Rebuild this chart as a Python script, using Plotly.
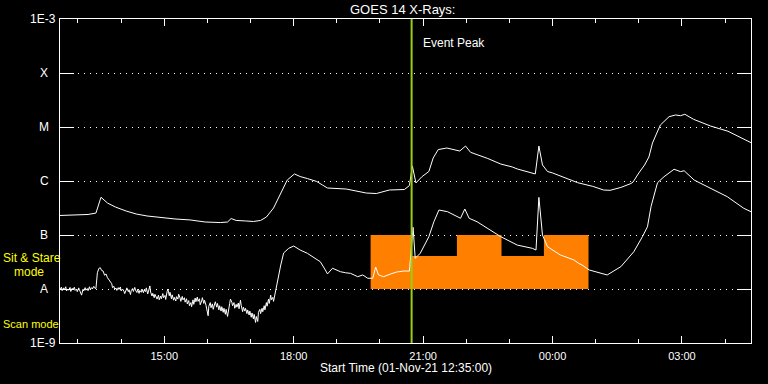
import math
from datetime import datetime, timedelta
import plotly.graph_objects as go

# ---------------- data ----------------
# upper channel (1-8 A) : times (HH:MM, 01-Nov-21 12:35 -> 02-Nov-21) and flux W/m^2
up_t = ["12:35","12:56","13:14","13:25","13:32","13:41","13:52","14:07","14:21","14:36",
        "14:54","15:15","15:36","15:57","16:18","16:28","16:33","16:40","16:53","17:04",
        "17:14","17:22","17:32","17:42","17:51","18:01","18:09","18:19","18:32","18:40",
        "18:47","19:13","19:41","19:55","20:13","20:34","20:41","20:45","20:50","20:58",
        "21:08","21:14","21:21","21:33","21:51","21:59","22:06","22:30","22:48","23:04",
        "23:11","23:36","23:39","23:41","23:46","23:53","00:00","00:11","00:28","00:35",
        "00:56","01:11","01:20","01:35","01:49","01:52","02:00","02:08","02:14","02:19",
        "02:25","02:30","02:42","02:51","02:58","03:04","03:16","03:40","04:04","04:36"]
up_f = [2.3e-7, 2.35e-7, 2.4e-7, 2.55e-7, 5.0e-7, 3.91e-7, 3.3e-7, 2.78e-7, 2.45e-7, 2.25e-7,
        2.11e-7, 1.98e-7, 1.9e-7, 1.74e-7, 1.7e-7, 1.74e-7, 2.02e-7, 1.86e-7, 1.82e-7, 1.78e-7,
        1.86e-7, 2.15e-7, 3.16e-7, 5.99e-7, 1.04e-6, 1.35e-6, 1.21e-6, 1.11e-6, 9.8e-7, 8.43e-7,
        7.41e-7, 7.1e-7, 5.99e-7, 5.86e-7, 6.81e-7, 6.96e-7, 8.25e-7, 1.9e-6, 9.18e-7, 1.19e-6,
        1.5e-6, 2.67e-6, 3.82e-6, 4.08e-6, 3.59e-6, 4.44e-6, 3.4e-6, 2.61e-6, 2.06e-6, 1.82e-6,
        1.67e-6, 1.35e-6, 3.3e-6, 4.44e-6, 1.98e-6, 1.5e-6, 1.41e-6, 1.24e-6, 1.02e-6, 9.3e-7,
        7.95e-7, 6.81e-7, 6.72e-7, 7.6e-7, 8.98e-7, 9.58e-7, 1.41e-6, 1.98e-6, 2.78e-6, 5.05e-6,
        7.74e-6, 1.09e-5, 1.55e-5, 1.67e-5, 1.62e-5, 1.72e-5, 1.39e-5, 1.04e-5, 8.34e-6, 5.12e-6]

# lower channel (0.5-4 A): noisy quiet part first, then the smooth part
lo_t = ["12:35","12:37","12:38","12:40","12:41","12:43","12:44","12:46","12:47","12:49",
        "12:50","12:52","12:53","12:55","12:56","12:58","12:59","13:01","13:02","13:04",
        "13:05","13:07","13:08","13:10","13:11","13:13","13:14","13:16","13:17","13:19",
        "13:20","13:22","13:23","13:25","13:27","13:29","13:31","13:33","13:35","13:37",
        "13:39","13:41","13:43","13:45","13:47","13:48","13:50","13:51","13:53","13:54",
        "13:56","13:57","13:59","14:00","14:02","14:04","14:05","14:07","14:08","14:10",
        "14:11","14:13","14:14","14:16","14:17","14:19","14:20","14:22","14:23","14:25",
        "14:26","14:28","14:29","14:31","14:32","14:34","14:35","14:37","14:38","14:40",
        "14:41","14:43","14:44","14:46","14:47","14:49","14:50","14:52","14:53","14:55",
        "14:56","14:58","14:59","15:01","15:02","15:04","15:05","15:07","15:08","15:10",
        "15:11","15:13","15:14","15:16","15:17","15:19","15:20","15:22","15:23","15:25",
        "15:26","15:28","15:29","15:31","15:32","15:34","15:35","15:37","15:38","15:40",
        "15:41","15:43","15:44","15:46","15:47","15:49","15:50","15:52","15:53","15:55",
        "15:56","15:58","15:59","16:01","16:02","16:04","16:05","16:07","16:08","16:10",
        "16:11","16:13","16:14","16:16","16:17","16:19","16:20","16:22","16:23","16:25",
        "16:26","16:28","16:29","16:31","16:32","16:34","16:35","16:37","16:38","16:40",
        "16:41","16:43","16:44","16:46","16:47","16:49","16:50","16:52","16:53","16:55",
        "16:56","16:58","16:59","17:01","17:02","17:04","17:05","17:07","17:08","17:10",
        "17:11","17:13","17:14","17:16","17:17","17:19","17:20","17:22","17:23","17:25",
        "17:26","17:28","17:29","17:31","17:32","17:34","17:35","17:37",
        "17:42","17:46","17:53","18:00","18:09","18:19","18:30",
        "18:37","18:44","18:47","18:54","19:00","19:05","19:12","19:19","19:24","19:29",
        "19:36","19:43","19:50","19:54","19:58","20:05","20:15","20:23","20:33","20:41",
        "20:46","20:49","20:56","21:03","21:08","21:15","21:22","21:34","21:52","21:58",
        "22:04","22:15","22:34","22:48","23:11","23:32","23:37","23:41","23:46","23:53",
        "00:11","00:20","00:30","00:36","00:41","00:51","01:07","01:16","01:35","01:53",
        "02:05","02:12","02:17","02:26","02:35","02:49","02:58","03:03","03:17","03:40",
        "04:03","04:26","04:36"]
lo_f = [1.0e-8, 1.08e-8, 9.3e-9, 1.05e-8, 9.6e-9, 1.1e-8, 9.2e-9, 1.0e-8, 9.5e-9, 1.07e-8,
        9.0e-9, 1.03e-8, 9.6e-9, 1.08e-8, 9.4e-9, 1.0e-8, 8.9e-9, 1.05e-8, 9.7e-9, 8.6e-9,
        7.7e-9, 9.9e-9, 9.2e-9, 1.06e-8, 9.5e-9, 1.02e-8, 9.3e-9, 1.1e-8, 9.8e-9, 1.06e-8,
        1.0e-8, 1.12e-8, 1.05e-8, 1.02e-8, 2.0e-8, 2.4e-8, 2.48e-8, 2.2e-8, 2.15e-8, 1.8e-8,
        1.9e-8, 1.62e-8, 1.5e-8, 1.38e-8, 1.25e-8, 1.06e-8, 1.12e-8, 9.9e-9, 1.04e-8, 9.4e-9,
        1.06e-8, 9.8e-9, 1.09e-8, 9.2e-9, 1.0e-8, 9.1e-9, 8.2e-9, 9.6e-9, 1.05e-8, 8.9e-9,
        9.7e-9, 7.9e-9, 9.3e-9, 1.02e-8, 9.0e-9, 1.07e-8, 9.5e-9, 8.6e-9, 9.9e-9, 8.3e-9,
        9.4e-9, 8.7e-9, 1.0e-8, 8.5e-9, 9.6e-9, 8.9e-9, 1.05e-8, 8.1e-9, 9.2e-9, 1.14e-8,
        8.8e-9, 7.4e-9, 8.3e-9, 6.9e-9, 8.0e-9, 7.2e-9, 6.5e-9, 7.7e-9, 6.3e-9, 7.4e-9,
        6.6e-9, 8.2e-9, 6.9e-9, 7.6e-9, 6.4e-9, 9.0e-9, 1.0e-8, 7.5e-9, 8.7e-9, 6.6e-9,
        7.8e-9, 6.2e-9, 7.0e-9, 6.0e-9, 7.2e-9, 6.5e-9, 8.0e-9, 6.8e-9, 5.9e-9, 7.3e-9,
        6.3e-9, 6.9e-9, 5.7e-9, 6.6e-9, 5.3e-9, 6.1e-9, 4.9e-9, 5.6e-9, 4.7e-9, 6.3e-9,
        5.2e-9, 6.8e-9, 5.8e-9, 7.1e-9, 5.9e-9, 6.6e-9, 5.1e-9, 6.0e-9, 6.9e-9, 5.4e-9,
        6.2e-9, 5.0e-9, 4.0e-9, 3.2e-9, 4.8e-9, 5.6e-9, 4.5e-9, 5.3e-9, 4.2e-9, 5.0e-9,
        5.8e-9, 4.6e-9, 5.4e-9, 4.1e-9, 4.9e-9, 3.9e-9, 4.7e-9, 3.7e-9, 4.4e-9, 3.4e-9,
        4.2e-9, 3.1e-9, 4.0e-9, 5.4e-9, 6.5e-9, 5.7e-9, 4.9e-9, 5.6e-9, 4.4e-9, 5.2e-9,
        4.6e-9, 5.5e-9, 4.3e-9, 6.2e-9, 5.0e-9, 3.8e-9, 4.6e-9, 3.9e-9, 4.4e-9, 3.5e-9,
        4.1e-9, 3.3e-9, 3.9e-9, 3.0e-9, 3.6e-9, 2.8e-9, 3.4e-9, 2.4e-9, 3.1e-9, 2.5e-9,
        3.7e-9, 4.2e-9, 3.5e-9, 4.4e-9, 3.8e-9, 4.9e-9, 4.1e-9, 5.6e-9, 4.8e-9, 6.5e-9,
        5.4e-9, 7.7e-9, 6.3e-9, 7.0e-9, 5.9e-9, 8.2e-9, 1.0e-8, 1.27e-8,
        2.78e-8, 4.64e-8, 5.66e-8, 6.25e-8, 5.27e-8, 4.58e-8, 3.7e-8,
        3.2e-8, 2.25e-8, 1.9e-8, 2.42e-8, 2.2e-8, 2.09e-8, 2.0e-8, 1.95e-8, 1.82e-8, 1.69e-8,
        1.82e-8, 1.58e-8, 1.58e-8, 2.55e-8, 1.82e-8, 1.69e-8, 1.9e-8, 2.06e-8, 2.15e-8, 2.15e-8,
        1.39e-7, 3.7e-8, 4.58e-8, 7.0e-8, 9.3e-8, 1.76e-7, 2.9e-7, 2.7e-7, 2.04e-7, 3.03e-7,
        2.04e-7, 1.76e-7, 1.24e-7, 9.3e-8, 6.5e-8, 5.66e-8, 5.27e-8, 4.98e-7, 1.0e-7, 6.07e-8,
        4.26e-8, 3.9e-8, 3.44e-8, 3.0e-8, 2.78e-8, 2.25e-8, 1.95e-8, 1.82e-8, 2.59e-8, 4.9e-8,
        9.3e-8, 1.42e-7, 3.38e-7, 9.3e-7, 1.2e-6, 1.65e-6, 1.49e-6, 1.55e-6, 1.04e-6, 7.3e-7,
        5.12e-7, 3.12e-7, 2.7e-7]

# observing-mode bars (Sit & Stare / Scan)
mode_edges = ["19:47", "20:44", "21:47", "22:49", "23:48", "00:50"]
mode_top = [1e-7, 4.1e-8, 1e-7, 4.1e-8, 1e-7]
mode_bottom = 1e-8

event_peak = "20:44"
start_time = "12:35"
end_time = "04:36"

ylevels = [1e-3, 1e-4, 1e-5, 1e-6, 1e-7, 1e-8, 1e-9]
ylabels = ["1E-3", "X", "M", "C", "B", "A", "1E-9"]

# ---------------- helpers ----------------
BASE = datetime(2021, 11, 1)


def ts(s):
    h, m = map(int, s.split(":"))
    d = BASE + timedelta(hours=h, minutes=m)
    if h < 12:
        d += timedelta(days=1)
    return d


FONT = "Liberation Sans"

# orange step polygon
px, py = [ts(mode_edges[0])], [mode_bottom]
for i, top in enumerate(mode_top):
    px += [ts(mode_edges[i]), ts(mode_edges[i + 1])]
    py += [top, top]
px += [ts(mode_edges[-1]), ts(mode_edges[0])]
py += [mode_bottom, mode_bottom]

fig = go.Figure()
fig.add_trace(go.Scatter(x=px, y=py, mode="lines", fill="toself",
                         fillcolor="#FF8000", line=dict(width=0, color="#FF8000"),
                         hoverinfo="skip"))
fig.add_trace(go.Scatter(x=[ts(t) for t in up_t], y=up_f, mode="lines",
                         line=dict(color="white", width=1)))
fig.add_trace(go.Scatter(x=[ts(t) for t in lo_t], y=lo_f, mode="lines",
                         line=dict(color="white", width=1)))

fig.add_shape(type="line", xref="x", yref="paper",
              x0=ts(event_peak), x1=ts(event_peak), y0=0, y1=1,
              line=dict(color="#9ACD16", width=2))

ann = []
ann.append(dict(text="GOES 14 X-Rays:", xref="paper", yref="paper", x=0.5, y=1,
                xshift=-3, yshift=9.5, xanchor="center", yanchor="middle",
                showarrow=False, font=dict(family=FONT, size=13, color="white")))
ann.append(dict(text="Event Peak", xref="x", yref="paper", x=ts(event_peak), y=1,
                xshift=9, yshift=-24, xanchor="left", yanchor="middle",
                showarrow=False, font=dict(family=FONT, size=12, color="white")))
ann.append(dict(text="Start Time (01-Nov-21 12:35:00)", xref="paper", yref="paper",
                x=0.5, y=0, yshift=-25, xanchor="center", yanchor="middle",
                showarrow=False, font=dict(family=FONT, size=12, color="white")))
for v, lab in zip(ylevels, ylabels):
    if lab.startswith("1E"):
        ann.append(dict(text=lab, xref="paper", yref="y", x=0, y=math.log10(v),
                        xshift=-2, xanchor="right", yanchor="middle", showarrow=False,
                        font=dict(family=FONT, size=12, color="white")))
    else:
        ann.append(dict(text=lab, xref="paper", yref="y", x=0, y=math.log10(v),
                        xshift=-16, xanchor="center", yanchor="middle", showarrow=False,
                        font=dict(family=FONT, size=12, color="white")))
for txt, xs, ys, fs in [("Sit & Stare", -59, 85, 12), ("mode", -48, 71.5, 12),
                        ("Scan mode", -59, 19, 11)]:
    ann.append(dict(text=txt, xref="paper", yref="paper", x=0, y=0, xshift=xs, yshift=ys,
                    xanchor="left", yanchor="middle", showarrow=False,
                    font=dict(family=FONT, size=fs, color="#FFFF00")))

fig.update_layout(
    width=768, height=384,
    margin=dict(l=60, r=17, t=19, b=41),
    paper_bgcolor="black", plot_bgcolor="black",
    showlegend=False,
    annotations=ann,
    xaxis=dict(type="date", range=[ts(start_time), ts(end_time)],
               showline=True, linecolor="white", linewidth=1, mirror="allticks",
               ticks="inside", ticklen=7, tickcolor="white", tickwidth=1,
               tick0="2021-11-01 00:00", dtick=3 * 3600000, tickformat="%H:%M",
               tickfont=dict(family=FONT, size=11, color="white"),
               ticklabelstandoff=3,
               showgrid=False, zeroline=False,
               minor=dict(dtick=3600000, ticklen=4, ticks="inside",
                          tickcolor="white", showgrid=False)),
    yaxis=dict(type="log", range=[-9, -3],
               showline=True, linecolor="white", linewidth=1, mirror="allticks",
               ticks="inside", ticklen=14, tickcolor="white", tickwidth=1,
               tickvals=ylevels[1:-1], showticklabels=False,
               showgrid=True, gridcolor="white", gridwidth=1, griddash="1px,5px",
               zeroline=False),
)

fig.write_html("out.html")
